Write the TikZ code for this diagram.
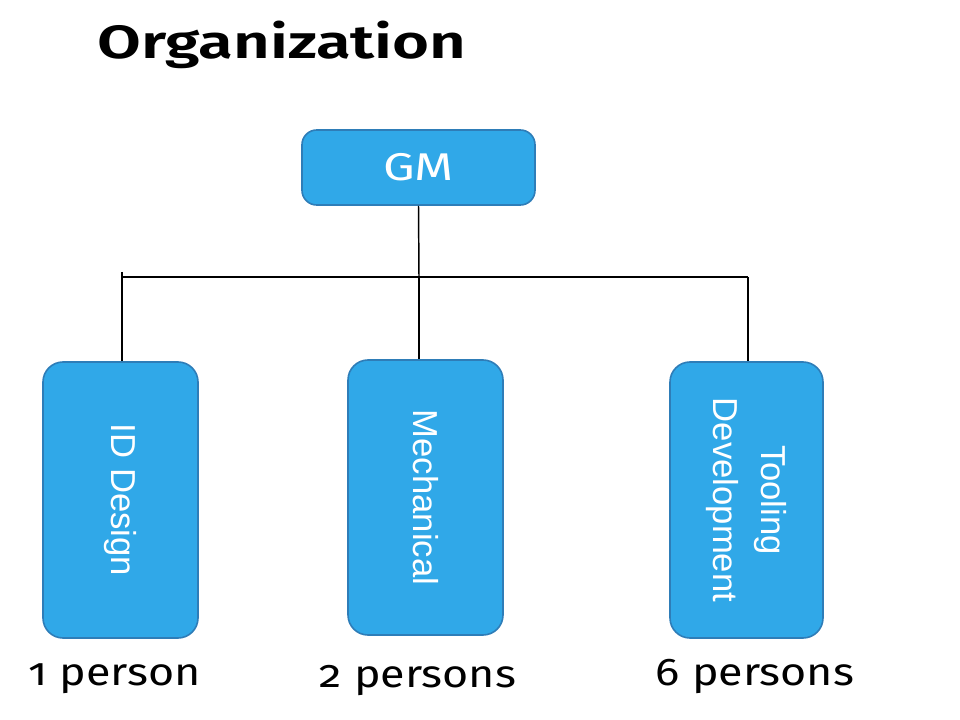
\documentclass[tikz,border=0pt]{standalone}
\usepackage{fontspec}
\setmainfont{Fira Sans}
\newfontfamily\boxfont{Liberation Sans}
\newfontfamily\labfont[Numbers=OldStyle]{Fira Sans}
\newfontfamily\titlefont[UprightFont=* SemiBold]{Fira Sans}
\definecolor{boxfill}{HTML}{30A8E8}
\definecolor{boxline}{HTML}{2E7DB8}
\begin{document}
\begin{tikzpicture}[x=0.75pt,y=-0.75pt,
  unit/.style={draw=boxline,fill=boxfill,line width=1.2pt,rounded corners=15pt,inner sep=0pt},
  vtext/.style={text=white,font=\boxfont\fontsize{26}{36}\selectfont,rotate=-90,align=center,inner sep=0pt},
  count/.style={font=\labfont\fontsize{29}{36}\selectfont,anchor=base,inner sep=0pt,xscale=1.16},
  link/.style={line width=1.1pt,black}]
\useasboundingbox (0,0) rectangle (960,720);
\node[font=\titlefont\fontsize{35}{44}\selectfont,anchor=base west,inner sep=0pt,xscale=1.36] (title) at (97,59) {Organization};
\node[unit,rounded corners=11pt,minimum width=174.75pt,minimum height=56.25pt] (gm) at (418.5,167.5) {};
\node[text=white,font=\fontsize{29}{34}\selectfont,inner sep=0pt,xscale=1.3] (gmt) at (gm.center) {GM};
\node[unit,minimum width=116.25pt,minimum height=207pt] (id) at (120.5,500) {};
\node[unit,minimum width=116.25pt,minimum height=206.25pt] (mech) at (425.5,497.5) {};
\node[unit,minimum width=114.75pt,minimum height=207pt] (tool) at (746.5,500) {};
\node[vtext] (idt) at (id.center) {ID Design};
\node[vtext] (mecht) at (mech.center) {Mechanical};
\node[vtext] (toolt) at (tool.center) {Tooling\\Development};
\coordinate (bus) at (419,277);
\coordinate (busl) at (122,277);
\coordinate (busr) at (748,277);
\coordinate (busltop) at (122,272);
\draw[link] (gm.south) -- (bus);
\draw[link] (busl) -- (busr);
\draw[link] (busltop) -- (busltop |- id.north);
\draw[link] (bus) -- (bus |- mech.north);
\draw[link] (busr) -- (busr |- tool.north);
\node[count] (c1) at (115,685) {1 person};
\node[count] (c2) at (418,687) {2 persons};
\node[count] (c3) at (755,685) {6 persons};
\end{tikzpicture}
\end{document}
